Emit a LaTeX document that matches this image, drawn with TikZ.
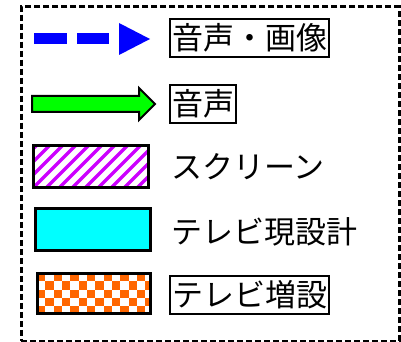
\documentclass[tikz,border=0pt]{standalone}
\usepackage{fontspec}
\newfontfamily\jp{Noto Sans CJK JP}
\definecolor{scrpurple}{HTML}{CC00FF}
\definecolor{tvorange}{HTML}{FF6600}
\definecolor{tvcyan}{HTML}{00FFFF}
\definecolor{argreen}{HTML}{00FF00}
\definecolor{arblue}{HTML}{0000FF}
\begin{document}
\begin{tikzpicture}[x=1pt,y=-1pt,
  lbl/.style={font=\jp\fontsize{31}{33}\selectfont, anchor=west, inner xsep=2pt, inner ysep=5pt},
  boxed/.style={lbl, draw=black, line width=2pt},
  swatch/.style={draw=black, line width=3pt}]
\useasboundingbox (0,0) rectangle (401,342);
% outer dashed frame
\node[draw=black, line width=2.5pt, dash pattern=on 6pt off 3pt, minimum width=378pt, minimum height=334pt, anchor=north west, inner sep=0pt] (frame) at (20,5.5) {};
% blue dashed arrow
\draw[arblue, line width=11pt] (34,39) -- (67,39) (77,39) -- (109,39);
\fill[arblue] (119,23) -- (150,39) -- (119,55) -- cycle;
\node[boxed] (l1) at (169,38) {音声・画像};
% green arrow
\draw[black, line width=2pt, fill=argreen, line join=miter] (32,96) -- (139,96) -- (139,88) -- (155,104) -- (139,120) -- (139,112) -- (32,112) -- cycle;
\node[boxed] (l2) at (169,104) {音声};
% screen swatch
\begin{scope}
\clip (33,145) rectangle (148,187);
\foreach \i in {-60,-47,...,160} {
  \draw[scrpurple, line width=3.5pt] (\i,190) -- (\i+50,140);
}
\end{scope}
\draw[swatch] (33,145) rectangle (148,187);
\node[lbl] (l3) at (169,167) {スクリーン};
% cyan swatch
\draw[swatch, fill=tvcyan] (35,208) rectangle (150,250);
\node[lbl] (l4) at (169,232) {テレビ現設計};
% orange checker swatch
\begin{scope}
\clip (37,273) rectangle (150,313);
\foreach \c in {0,...,14} {
  \foreach \r in {0,...,5} {
    \pgfmathtruncatemacro{\parity}{mod(\c+\r,2)}
    \ifnum\parity=0
      \fill[tvorange] (37+\c*8.33,273+\r*8.33) rectangle ++(8.33,8.33);
    \fi
  }
}
\end{scope}
\draw[swatch] (37,273) rectangle (150,313);
\node[boxed] (l5) at (169,295) {テレビ増設};
\end{tikzpicture}
\end{document}
